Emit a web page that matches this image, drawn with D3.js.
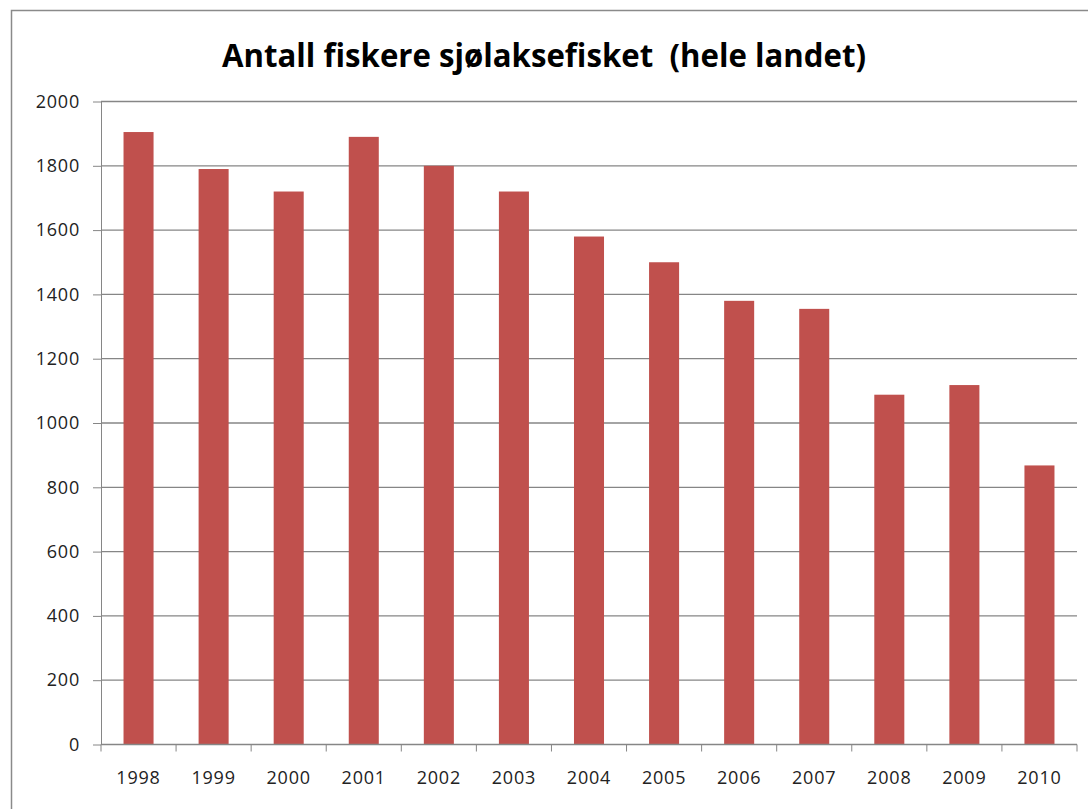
<!DOCTYPE html>
<html>
	<head>
		<meta charset="utf-8">
		<title>Antall fiskere sjølaksefisket</title>
		<script src="https://d3js.org/d3.v7.min.js"></script>
		<style>
			body { margin: 0; background: #fff; }
			text { font-family: "Open Sans", "Noto Sans", sans-serif; }
			.axis path, .axis line { stroke: #868686; }
			.axis text { fill: #222; font-size: 18px; letter-spacing: 0.8px; }
		</style>
	</head>
	<body>
		<svg width="1088" height="809"></svg>

		<script type="text/javascript">
			var years = ["1998", "1999", "2000", "2001", "2002", "2003", "2004",
			             "2005", "2006", "2007", "2008", "2009", "2010"];
			var fishers = [1905, 1790, 1720, 1890, 1800, 1720, 1580,
			               1500, 1380, 1355, 1088, 1118, 868];
			var yTicks = [0, 200, 400, 600, 800, 1000, 1200, 1400, 1600, 1800, 2000];

			var plotLeft = 101, plotRight = 1077, plotTop = 101.5, plotBottom = 744.5;

			var svg = d3.select("svg");

			// chart frame
			svg.append("rect")
				.attr("x", 11.5).attr("y", 10.5)
				.attr("width", 1090).attr("height", 820)
				.attr("fill", "#fff")
				.attr("stroke", "#8a8a8a")
				.attr("stroke-width", 1.5);

			svg.append("text")
				.attr("x", 544)
				.attr("y", 67)
				.attr("text-anchor", "middle")
				.attr("font-size", 33)
				.attr("font-weight", "bold")
				.attr("textLength", 644)
				.attr("lengthAdjust", "spacingAndGlyphs")
				.style("white-space", "pre")
				.text("Antall fiskere sjølaksefisket  (hele landet)");

			var x = d3.scaleBand()
				.domain(years)
				.range([plotLeft, plotRight])
				.paddingInner(0.6)
				.paddingOuter(0.3);

			var y = d3.scaleLinear()
				.domain([0, 2000])
				.range([plotBottom, plotTop]);

			// gridlines
			svg.append("g")
				.selectAll("line")
				.data(yTicks.slice(1))
				.enter().append("line")
				.attr("x1", plotLeft).attr("x2", plotRight)
				.attr("y1", function(d) { return y(d); })
				.attr("y2", function(d) { return y(d); })
				.attr("stroke", "#868686")
				.attr("stroke-width", 1.3);

			svg.append("g")
				.selectAll("rect")
				.data(fishers)
				.enter().append("rect")
				.attr("x", function(d, i) { return x(years[i]); })
				.attr("y", function(d) { return y(d); })
				.attr("width", x.bandwidth())
				.attr("height", function(d) { return plotBottom - y(d); })
				.attr("fill", "#C0504D");

			var yAxis = d3.axisLeft(y)
				.tickValues(yTicks)
				.tickFormat(d3.format("d"))
				.tickSize(8)
				.tickPadding(13)
				.tickSizeOuter(0);

			svg.append("g")
				.attr("class", "axis")
				.attr("transform", "translate(" + plotLeft + ",0)")
				.call(yAxis);

			// x axis: ticks between categories like Excel
			var xAxisG = svg.append("g")
				.attr("class", "axis")
				.attr("transform", "translate(0," + plotBottom + ")");

			xAxisG.append("line")
				.attr("x1", plotLeft).attr("x2", plotRight)
				.attr("stroke", "#868686")
				.attr("stroke-width", 1.3);

			var step = (plotRight - plotLeft) / years.length;
			xAxisG.selectAll(".tk")
				.data(years.concat(["end"]))
				.enter().append("line")
				.attr("class", "tk")
				.attr("x1", function(d, i) { return plotLeft + i * step; })
				.attr("x2", function(d, i) { return plotLeft + i * step; })
				.attr("y1", 0).attr("y2", 7);

			xAxisG.selectAll("text")
				.data(years)
				.enter().append("text")
				.attr("x", function(d) { return x(d) + x.bandwidth() / 2; })
				.attr("y", 39)
				.attr("text-anchor", "middle")
				.text(function(d) { return d; });
		</script>
	</body>
</html>
